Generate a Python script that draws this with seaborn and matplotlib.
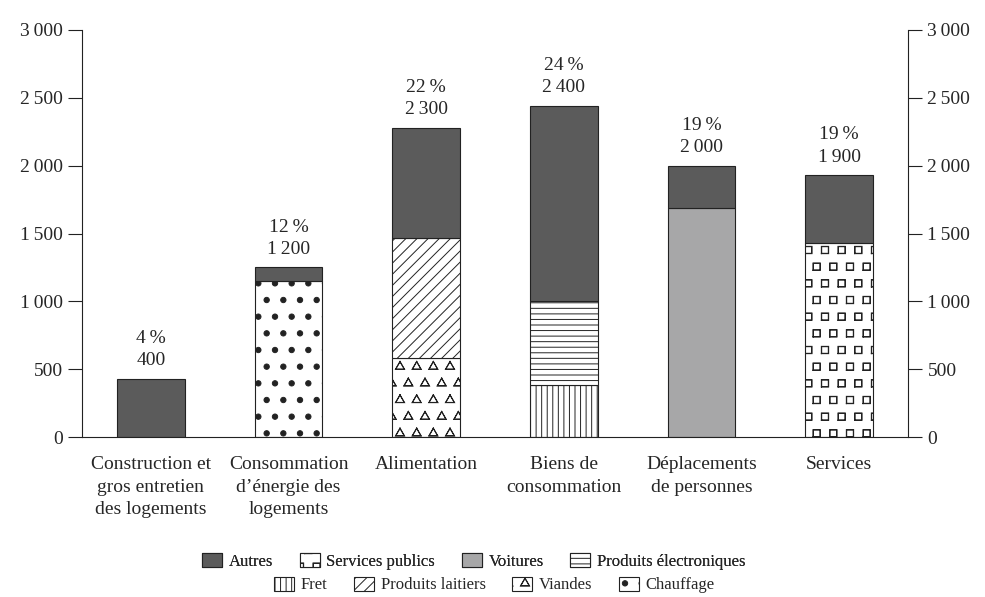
import matplotlib
matplotlib.use("Agg")
import matplotlib.pyplot as plt
import matplotlib.hatch as mhatch
from matplotlib.path import Path
from matplotlib.patches import Patch
import numpy as np
import seaborn as sns

# data (values in the same unit as the y axis)
categories = ["Construction et\ngros entretien\ndes logements",
              "Consommation\nd\u2019énergie des\nlogements",
              "Alimentation",
              "Biens de\nconsommation",
              "Déplacements\nde personnes",
              "Services"]

# first block of each bar
base_names = [None, "Chauffage", "Viandes", "Fret", "Voitures", "Services publics"]
base_values = [0, 1150, 580, 380, 1690, 1430]
# second block (only two bars have one)
middle_names = [None, None, "Produits laitiers", "Produits électroniques", None, None]
middle_values = [0, 0, 890, 620, 0, 0]
# "Autres" on top of every bar
autres_values = [430, 100, 810, 1440, 310, 500]

total_labels = ["400", "1\u2009200", "2\u2009300", "2\u2009400", "2\u2009000", "1\u2009900"]
pct_labels = ["4\u2009%", "12\u2009%", "22\u2009%", "24\u2009%", "19\u2009%", "19\u2009%"]

yticks = [0, 500, 1000, 1500, 2000, 2500, 3000]
ytick_labels = ["0", "500", "1\u2009000", "1\u2009500", "2\u2009000", "2\u2009500", "3\u2009000"]

legend_row1 = ["Autres", "Services publics", "Voitures", "Produits électroniques"]
legend_row2 = ["Fret", "Produits laitiers", "Viandes", "Chauffage"]


# matplotlib has no square or triangle hatch, so reuse 'O' and '*' for them
class SquareHatch(mhatch.Shapes):
    size = 0.22
    filled = False

    def __init__(self, hatch, density):
        self.num_rows = hatch.count('O') * density
        self.shape_vertices = np.array([[-1, -1], [1, -1], [1, 1], [-1, 1], [-1, -1]], float)
        self.shape_codes = np.array([Path.MOVETO, Path.LINETO, Path.LINETO, Path.LINETO, Path.LINETO],
                                    dtype=Path.code_type)
        super().__init__(hatch, density)


class TriangleHatch(mhatch.Shapes):
    size = 0.32
    filled = False

    def __init__(self, hatch, density):
        self.num_rows = hatch.count('*') * density
        v = Path.unit_regular_polygon(3).vertices.copy()
        v[-1] = v[0]
        self.shape_vertices = v
        self.shape_codes = np.full(len(v), Path.LINETO, dtype=Path.code_type)
        self.shape_codes[0] = Path.MOVETO
        super().__init__(hatch, density)


class BigDots(mhatch.SmallFilledCircles):
    size = 0.16


mhatch._hatch_types = [mhatch.HorizontalHatch, mhatch.VerticalHatch,
                       mhatch.NorthEastHatch, mhatch.SouthEastHatch,
                       mhatch.SmallCircles, SquareHatch,
                       BigDots, TriangleHatch]

styles = {
    "Autres": dict(color="#5b5b5b", hatch=None),
    "Services publics": dict(color="white", hatch="O"),
    "Voitures": dict(color="#a7a7a8", hatch=None),
    "Produits électroniques": dict(color="white", hatch="---"),
    "Fret": dict(color="white", hatch="|||"),
    "Produits laitiers": dict(color="white", hatch="///"),
    "Viandes": dict(color="white", hatch="*"),
    "Chauffage": dict(color="white", hatch="."),
}

sns.set_style("white")
plt.rcParams["font.family"] = ["Liberation Serif", "DejaVu Serif"]
plt.rcParams["hatch.linewidth"] = 0.7
plt.rcParams["hatch.color"] = "black"

fig = plt.figure(figsize=(9.85, 5.97), dpi=100)
ax = fig.add_axes([82 / 985, 160 / 597, 826 / 985, 407 / 597])

bar_w = 0.49
common = dict(order=categories, errorbar=None, saturation=1, width=bar_w,
              edgecolor="#222222", linewidth=0.8, ax=ax)

# bottom blocks
for i, name in enumerate(base_names):
    if name is None:
        continue
    sns.barplot(x=[categories[i]], y=[base_values[i]], color=styles[name]["color"],
                hatch=styles[name]["hatch"], **common)

# middle blocks
for i, name in enumerate(middle_names):
    if name is None:
        continue
    sns.barplot(x=[categories[i]], y=[middle_values[i]], bottom=base_values[i],
                color=styles[name]["color"], hatch=styles[name]["hatch"], **common)

# Autres on top
bottoms = np.array(base_values) + np.array(middle_values)
sns.barplot(x=categories, y=autres_values, bottom=bottoms,
            color=styles["Autres"]["color"], **common)

tops = bottoms + np.array(autres_values)
for i in range(len(categories)):
    ax.annotate(total_labels[i], (i, tops[i]), xytext=(0, 13), textcoords="offset points",
                ha="center", va="center", fontsize=14)
    ax.annotate(pct_labels[i], (i, tops[i]), xytext=(0, 29), textcoords="offset points",
                ha="center", va="center", fontsize=14)

ax.set_xlim(-0.5, len(categories) - 0.5)
ax.set_ylim(0, 3000)
ax.set_xlabel("")
ax.set_ylabel("")

# x: ticks between categories, labels centred under bars
ax.set_xticks(np.arange(-0.5, len(categories), 1.0))
ax.set_xticklabels([])
ax.set_xticks(np.arange(len(categories)), minor=True)
ax.set_xticklabels(categories, minor=True, fontsize=14, linespacing=1.4)
ax.tick_params(axis="x", which="major", direction="out", length=11, width=0.8, color="#222222")
ax.tick_params(axis="x", which="minor", length=0, pad=14)

# y: same scale on both sides
ax.set_yticks(yticks)
ax.set_yticklabels(ytick_labels, fontsize=14)
ax.tick_params(axis="y", which="major", direction="out", length=10, width=0.8, color="#222222",
               left=True, right=True, labelleft=True, labelright=True, pad=4)

for side in ["left", "right", "bottom"]:
    ax.spines[side].set_visible(True)
    ax.spines[side].set_color("#222222")
    ax.spines[side].set_linewidth(0.8)
ax.spines["top"].set_visible(False)


def handles(names):
    return [Patch(facecolor=styles[n]["color"], hatch=styles[n]["hatch"],
                  edgecolor="#222222", linewidth=0.8, label=n) for n in names]


leg_kw = dict(loc="center", ncol=4, frameon=False, fontsize=12, handlelength=1.2,
              handleheight=0.9, handletextpad=0.4, columnspacing=1.6)
leg1 = fig.legend(handles=handles(legend_row1), bbox_to_anchor=(0.481, 0.060), **leg_kw)
fig.add_artist(leg1)
fig.legend(handles=handles(legend_row2), bbox_to_anchor=(0.502, 0.020), **leg_kw)

fig.savefig("out.png", dpi=100)
